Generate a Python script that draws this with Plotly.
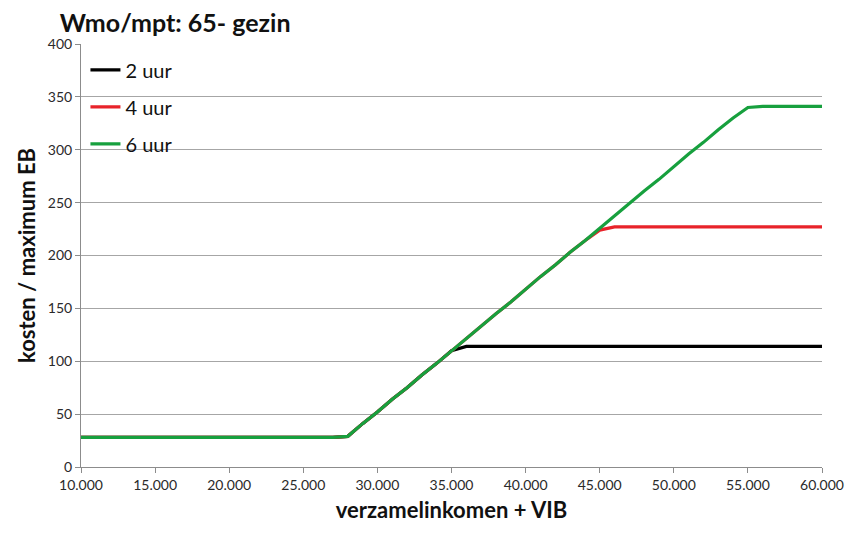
import plotly.graph_objects as go

income = list(range(10000, 61000, 1000))

kosten_2uur = [28]*18 + [29, 41, 52, 64, 75, 87, 98, 110] + [114]*25
kosten_4uur = [28]*18 + [29, 41, 52, 64, 75, 87, 98, 110, 122, 133, 145, 156, 168, 180, 191, 203, 214, 224] + [227]*15
kosten_6uur = [28]*18 + [29, 41, 52, 64, 75, 87, 98, 110, 122, 133, 145, 156, 168, 180, 191, 203, 214, 226,
                         238, 249, 261, 272, 284, 296, 307, 319, 330, 340] + [341]*5

series_names = ["2 uur", "4 uur", "6 uur"]
series_colors = ["#000000", "#E8232A", "#17A03E"]
series_values = [kosten_2uur, kosten_4uur, kosten_6uur]

x_ticks = list(range(10000, 60001, 5000))
x_tick_labels = [f"{v:,}".replace(",", ".") for v in x_ticks]

font_family = "Lato, 'Open Sans', sans-serif"

fig = go.Figure()
for i, (name, col, vals) in enumerate(zip(series_names, series_colors, series_values)):
    fig.add_trace(go.Scatter(
        x=income, y=vals, mode="lines", name=name, legendgroup=str(i),
        line=dict(color=col, width=3.2),
    ))

fig.update_layout(
    width=862, height=535,
    margin=dict(l=73, r=48, t=36, b=76),
    paper_bgcolor="white", plot_bgcolor="white",
    font=dict(family=font_family, color="#222222"),
    title=dict(text="<b>Wmo/mpt: 65- gezin</b>", x=0.06, xanchor="left", y=0.972, yanchor="middle",
               font=dict(size=25, color="#111111", family=font_family)),
    legend=dict(x=0.006, y=0.985, xanchor="left", yanchor="top", bgcolor="rgba(0,0,0,0)",
                font=dict(size=20, color="#111111"), traceorder="grouped", tracegroupgap=8,
                itemwidth=30),
    showlegend=True,
)
fig.update_xaxes(
    range=[10000, 60000], tickvals=x_ticks, ticktext=x_tick_labels,
    showgrid=False, showline=True, linecolor="#8c8c8c", linewidth=1,
    ticks="outside", ticklen=5, tickcolor="#8c8c8c",
    tickfont=dict(size=14, color="#2a2a2a"),
    title=dict(text="<b>verzamelinkomen + VIB</b>", font=dict(size=22, color="#111111"), standoff=10),
    zeroline=False,
)
fig.update_yaxes(
    range=[0, 400], dtick=50,
    showgrid=True, gridcolor="#a6a6a6", gridwidth=1,
    showline=True, linecolor="#8c8c8c", linewidth=1,
    ticks="outside", ticklen=5, tickcolor="#8c8c8c",
    tickfont=dict(size=14, color="#2a2a2a"),
    title=dict(text="<b>kosten / maximum EB</b>", font=dict(size=22, color="#111111"), standoff=6),
    zeroline=False,
)

fig.write_html("out.html")
